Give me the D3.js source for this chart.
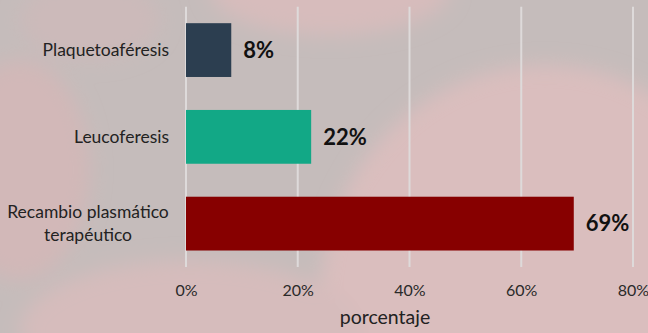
<!DOCTYPE html>
<html><head><meta charset="utf-8">
<script src="https://cdn.jsdelivr.net/npm/d3@7"></script>
<style>html,body{margin:0;padding:0;background:#c6bdbc;}svg{display:block;}</style>
</head><body><svg id="c" width="648" height="333"></svg>
<script>
const categories = ["Plaquetoaféresis", "Leucoferesis", "Recambio plasmático terapéutico"];
const values = [8.1, 22.4, 69.4];
const colors = ["#2c3e50", "#12a886", "#870000"];
const tickValues = [0, 20, 40, 60, 80];
const axisTitle = "porcentaje";

const W = 648, H = 333;
const svg = d3.select("#c");
const defs = svg.append("defs");
defs.append("filter").attr("id","blur").attr("x","-50%").attr("y","-50%").attr("width","200%").attr("height","200%")
  .append("feGaussianBlur").attr("stdDeviation", 10);

// background: blurred blood-cell photo under a grey veil
const bg = svg.append("g");
bg.append("rect").attr("width",W).attr("height",H).attr("fill","#c5bcbb");
const blobs = bg.append("g").attr("filter","url(#blur)");
blobs.append("ellipse").attr("cx",545).attr("cy",300).attr("rx",225).attr("ry",235).attr("fill","#dabebe");
blobs.append("ellipse").attr("cx",330).attr("cy",-10).attr("rx",120).attr("ry",45).attr("fill","#d7bcbc");
blobs.append("ellipse").attr("cx",20).attr("cy",170).attr("rx",70).attr("ry",110).attr("fill","#d2b8b8");
blobs.append("ellipse").attr("cx",190).attr("cy",330).attr("rx",170).attr("ry",70).attr("fill","#d6bcbc");
blobs.append("ellipse").attr("cx",90).attr("cy",20).attr("rx",70).attr("ry",40).attr("fill","#ccbaba");

const x = d3.scaleLinear().domain([0, 80]).range([186, 633]);
const y = d3.scaleBand().domain(categories).range([6.7, 267]).paddingInner(0.38).paddingOuter(0.19);

// gridlines
svg.append("g").selectAll("line").data(tickValues).join("line")
  .attr("x1", d => x(d)).attr("x2", d => x(d))
  .attr("y1", 6.7).attr("y2", 267)
  .attr("stroke", "#dedada").attr("stroke-width", 2);

// bars
svg.append("g").selectAll("rect").data(categories).join("rect")
  .attr("x", x(0)).attr("y", d => y(d))
  .attr("width", (d,i) => x(values[i]) - x(0))
  .attr("height", y.bandwidth())
  .attr("fill", (d,i) => colors[i]);

// value labels
svg.append("g").selectAll("text").data(categories).join("text")
  .attr("x", (d,i) => x(values[i]) + 12)
  .attr("y", d => y(d) + y.bandwidth()/2)
  .attr("dy", "0.35em")
  .attr("font-family", "Lato, sans-serif").attr("font-weight", "bold").attr("font-size", 22)
  .attr("fill", "#111")
  .text((d,i) => Math.round(values[i]) + "%");

// category axis labels
const cat = svg.append("g").attr("font-family","Lato, sans-serif").attr("font-size",17.5).attr("fill","#222");
categories.forEach((c) => {
  const cy = y(c) + y.bandwidth()/2;
  if (c === "Recambio plasmático terapéutico") {
    const t = cat.append("text").attr("text-anchor","middle").attr("x", 88).attr("y", cy);
    t.append("tspan").attr("x",88).attr("y", cy - 11.5).attr("dy","0.35em").text("Recambio plasmático");
    t.append("tspan").attr("x",88).attr("y", cy + 11.5).attr("dy","0.35em").text("terapéutico");
  } else {
    cat.append("text").attr("text-anchor","end").attr("x", 169).attr("y", cy).attr("dy","0.35em").text(c);
  }
});

// x axis tick labels
const xAxis = d3.axisBottom(x).tickValues(tickValues).tickFormat(d => d + "%").tickSize(0).tickPadding(0);
const gx = svg.append("g").attr("transform","translate(0,285)").call(xAxis);
gx.select(".domain").remove();
gx.selectAll("text").attr("font-family","Lato, sans-serif").attr("font-size",16).attr("fill","#2a2a2a");

svg.append("text").attr("x", 385).attr("y", 324).attr("text-anchor","middle")
  .attr("font-family","Lato, sans-serif").attr("font-size",19.5).attr("fill","#222").text(axisTitle);
</script></body></html>
